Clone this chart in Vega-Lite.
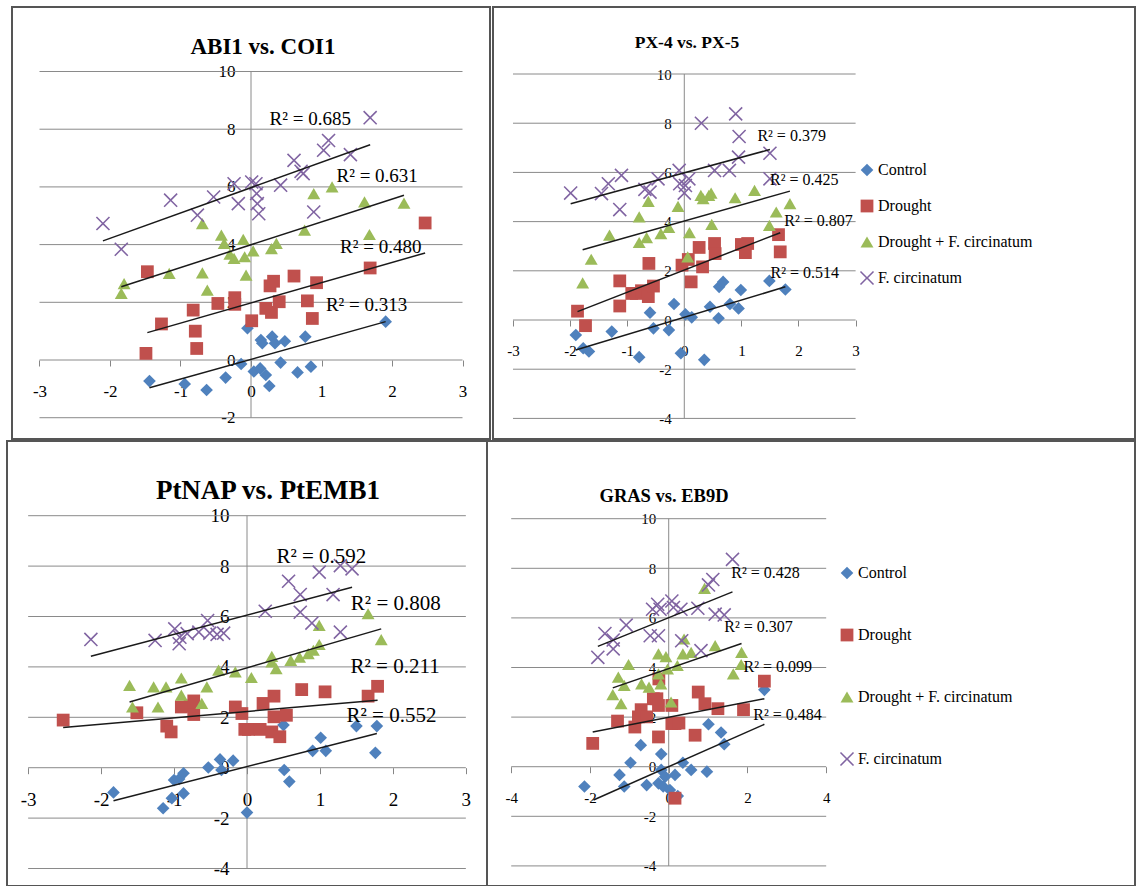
{
"$schema": "https://vega.github.io/schema/vega-lite/v6.json",
"padding": {"left": 6, "top": 6, "right": 0, "bottom": 0},
"background": "white",
"config": {"view": {"stroke": null}, "font": "Liberation Serif"},
"datasets": {
"lines": [
{"p":1,"x":-3,"x2":3,"y":-2,"y2":-2},{"p":1,"x":-3,"x2":3,"y":0,"y2":0},{"p":1,"x":-3,"x2":3,"y":2,"y2":2},{"p":1,"x":-3,"x2":3,"y":4,"y2":4},{"p":1,"x":-3,"x2":3,"y":6,"y2":6},{"p":1,"x":-3,"x2":3,"y":8,"y2":8},{"p":1,"x":-3,"x2":3,"y":10,"y2":10},{"p":1,"x":0,"x2":0,"y":-2,"y2":10},
{"p":2,"x":-3,"x2":3,"y":-4,"y2":-4},{"p":2,"x":-3,"x2":3,"y":-2,"y2":-2},{"p":2,"x":-3,"x2":3,"y":0,"y2":0},{"p":2,"x":-3,"x2":3,"y":2,"y2":2},{"p":2,"x":-3,"x2":3,"y":4,"y2":4},{"p":2,"x":-3,"x2":3,"y":6,"y2":6},{"p":2,"x":-3,"x2":3,"y":8,"y2":8},{"p":2,"x":-3,"x2":3,"y":10,"y2":10},{"p":2,"x":0,"x2":0,"y":-4,"y2":10},
{"p":3,"x":-3,"x2":3,"y":-4,"y2":-4},{"p":3,"x":-3,"x2":3,"y":-2,"y2":-2},{"p":3,"x":-3,"x2":3,"y":0,"y2":0},{"p":3,"x":-3,"x2":3,"y":2,"y2":2},{"p":3,"x":-3,"x2":3,"y":4,"y2":4},{"p":3,"x":-3,"x2":3,"y":6,"y2":6},{"p":3,"x":-3,"x2":3,"y":8,"y2":8},{"p":3,"x":-3,"x2":3,"y":10,"y2":10},{"p":3,"x":0,"x2":0,"y":-4,"y2":10},
{"p":4,"x":-4,"x2":4,"y":-4,"y2":-4},{"p":4,"x":-4,"x2":4,"y":-2,"y2":-2},{"p":4,"x":-4,"x2":4,"y":0,"y2":0},{"p":4,"x":-4,"x2":4,"y":2,"y2":2},{"p":4,"x":-4,"x2":4,"y":4,"y2":4},{"p":4,"x":-4,"x2":4,"y":6,"y2":6},{"p":4,"x":-4,"x2":4,"y":8,"y2":8},{"p":4,"x":-4,"x2":4,"y":10,"y2":10},{"p":4,"x":0,"x2":0,"y":-4,"y2":10}
],
"trend": [
{"p":1,"s":"C","x":-1.44,"y":-0.96,"x2":1.91,"y2":1.33},{"p":1,"s":"D","x":-1.47,"y":0.95,"x2":2.47,"y2":3.71},{"p":1,"s":"DF","x":-1.84,"y":2.54,"x2":2.17,"y2":5.71},{"p":1,"s":"F","x":-2.10,"y":4.13,"x2":1.69,"y2":7.46},
{"p":2,"s":"C","x":-1.90,"y":-1.22,"x2":1.77,"y2":1.35},{"p":2,"s":"D","x":-1.87,"y":0.34,"x2":1.68,"y2":3.55},{"p":2,"s":"DF","x":-1.78,"y":2.86,"x2":1.85,"y2":5.24},{"p":2,"s":"F","x":-1.99,"y":4.73,"x2":1.50,"y2":6.93},
{"p":3,"s":"C","x":-1.83,"y":-1.31,"x2":1.78,"y2":1.36},{"p":3,"s":"D","x":-2.52,"y":1.60,"x2":1.79,"y2":2.68},{"p":3,"s":"DF","x":-1.61,"y":2.61,"x2":1.84,"y2":5.51},{"p":3,"s":"F","x":-2.14,"y":4.42,"x2":1.44,"y2":7.16},
{"p":4,"s":"C","x":-1.91,"y":-1.34,"x2":2.43,"y2":1.71},{"p":4,"s":"D","x":-1.93,"y":1.40,"x2":2.43,"y2":2.74},{"p":4,"s":"DF","x":-1.42,"y":3.18,"x2":1.85,"y2":4.97},{"p":4,"s":"F","x":-1.80,"y":4.85,"x2":1.62,"y2":7.05}
],
"r2": [
{"p":1,"t":"R² = 0.685","x":0.84,"y":8.36},{"p":1,"t":"R² = 0.631","x":1.79,"y":6.37},{"p":1,"t":"R² = 0.480","x":1.84,"y":3.90},{"p":1,"t":"R² = 0.313","x":1.64,"y":1.90},
{"p":2,"t":"R² = 0.379","x":1.88,"y":7.47},{"p":2,"t":"R² = 0.425","x":2.10,"y":5.68},{"p":2,"t":"R² = 0.807","x":2.35,"y":4.03},{"p":2,"t":"R² = 0.514","x":2.11,"y":1.92},
{"p":3,"t":"R² = 0.592","x":1.02,"y":8.38},{"p":3,"t":"R² = 0.808","x":2.04,"y":6.48},{"p":3,"t":"R² = 0.211","x":2.03,"y":4.00},{"p":3,"t":"R² = 0.552","x":1.98,"y":2.04},
{"p":4,"t":"R² = 0.428","x":2.46,"y":7.82},{"p":4,"t":"R² = 0.307","x":2.28,"y":5.64},{"p":4,"t":"R² = 0.099","x":2.77,"y":4.04},{"p":4,"t":"R² = 0.484","x":3.02,"y":2.10}
],
"pts": [
{"p":1,"s":"C","x":-1.44,"y":-0.73},{"p":1,"s":"C","x":-0.94,"y":-0.83},{"p":1,"s":"C","x":-0.63,"y":-1.04},{"p":1,"s":"C","x":-0.36,"y":-0.61},{"p":1,"s":"C","x":-0.14,"y":-0.14},{"p":1,"s":"C","x":-0.05,"y":1.10},{"p":1,"s":"C","x":0.04,"y":-0.40},{"p":1,"s":"C","x":0.13,"y":-0.29},{"p":1,"s":"C","x":0.21,"y":-0.52},{"p":1,"s":"C","x":0.26,"y":-0.90},{"p":1,"s":"C","x":0.14,"y":0.69},{"p":1,"s":"C","x":0.16,"y":0.58},{"p":1,"s":"C","x":0.30,"y":0.81},{"p":1,"s":"C","x":0.34,"y":0.58},{"p":1,"s":"C","x":0.48,"y":0.65},{"p":1,"s":"C","x":0.42,"y":-0.09},{"p":1,"s":"C","x":0.66,"y":-0.43},{"p":1,"s":"C","x":0.77,"y":0.81},{"p":1,"s":"C","x":0.85,"y":-0.23},{"p":1,"s":"C","x":1.91,"y":1.33},
{"p":1,"s":"D","x":-1.49,"y":0.23},{"p":1,"s":"D","x":-1.27,"y":1.25},{"p":1,"s":"D","x":-1.47,"y":3.06},{"p":1,"s":"D","x":-0.82,"y":1.73},{"p":1,"s":"D","x":-0.79,"y":1.00},{"p":1,"s":"D","x":-0.77,"y":0.40},{"p":1,"s":"D","x":-0.47,"y":1.96},{"p":1,"s":"D","x":-0.23,"y":2.16},{"p":1,"s":"D","x":-0.23,"y":1.93},{"p":1,"s":"D","x":0.01,"y":1.36},{"p":1,"s":"D","x":0.21,"y":1.79},{"p":1,"s":"D","x":0.29,"y":1.65},{"p":1,"s":"D","x":0.27,"y":2.57},{"p":1,"s":"D","x":0.32,"y":2.73},{"p":1,"s":"D","x":0.40,"y":2.02},{"p":1,"s":"D","x":0.61,"y":2.91},{"p":1,"s":"D","x":0.80,"y":2.05},{"p":1,"s":"D","x":0.87,"y":1.44},{"p":1,"s":"D","x":0.93,"y":2.68},{"p":1,"s":"D","x":1.69,"y":3.19},{"p":1,"s":"D","x":2.47,"y":4.75},
{"p":1,"s":"DF","x":-1.80,"y":2.65},{"p":1,"s":"DF","x":-1.84,"y":2.31},{"p":1,"s":"DF","x":-1.16,"y":3.00},{"p":1,"s":"DF","x":-0.69,"y":4.73},{"p":1,"s":"DF","x":-0.69,"y":3.02},{"p":1,"s":"DF","x":-0.62,"y":2.42},{"p":1,"s":"DF","x":-0.42,"y":4.33},{"p":1,"s":"DF","x":-0.38,"y":4.04},{"p":1,"s":"DF","x":-0.30,"y":3.67},{"p":1,"s":"DF","x":-0.24,"y":3.52},{"p":1,"s":"DF","x":-0.11,"y":4.18},{"p":1,"s":"DF","x":-0.09,"y":3.58},{"p":1,"s":"DF","x":-0.07,"y":2.94},{"p":1,"s":"DF","x":0.03,"y":3.78},{"p":1,"s":"DF","x":0.29,"y":3.86},{"p":1,"s":"DF","x":0.36,"y":4.04},{"p":1,"s":"DF","x":0.76,"y":4.50},{"p":1,"s":"DF","x":0.89,"y":5.77},{"p":1,"s":"DF","x":1.15,"y":6.00},{"p":1,"s":"DF","x":1.61,"y":5.48},{"p":1,"s":"DF","x":1.68,"y":4.35},{"p":1,"s":"DF","x":2.17,"y":5.44},
{"p":1,"s":"F","x":-2.10,"y":4.73},{"p":1,"s":"F","x":-1.84,"y":3.84},{"p":1,"s":"F","x":-1.14,"y":5.54},{"p":1,"s":"F","x":-0.76,"y":5.02},{"p":1,"s":"F","x":-0.53,"y":5.65},{"p":1,"s":"F","x":-0.24,"y":6.11},{"p":1,"s":"F","x":-0.18,"y":5.42},{"p":1,"s":"F","x":0.01,"y":6.17},{"p":1,"s":"F","x":0.07,"y":6.11},{"p":1,"s":"F","x":0.08,"y":5.77},{"p":1,"s":"F","x":0.09,"y":5.42},{"p":1,"s":"F","x":0.11,"y":5.07},{"p":1,"s":"F","x":0.42,"y":6.06},{"p":1,"s":"F","x":0.61,"y":6.92},{"p":1,"s":"F","x":0.71,"y":6.54},{"p":1,"s":"F","x":0.74,"y":6.46},{"p":1,"s":"F","x":0.89,"y":5.13},{"p":1,"s":"F","x":1.03,"y":7.27},{"p":1,"s":"F","x":1.10,"y":7.61},{"p":1,"s":"F","x":1.41,"y":7.12},{"p":1,"s":"F","x":1.69,"y":8.40},
{"p":2,"s":"C","x":-1.90,"y":-0.61},{"p":2,"s":"C","x":-1.77,"y":-1.15},{"p":2,"s":"C","x":-1.67,"y":-1.28},{"p":2,"s":"C","x":-1.27,"y":-0.47},{"p":2,"s":"C","x":-0.79,"y":-1.51},{"p":2,"s":"C","x":-0.60,"y":0.30},{"p":2,"s":"C","x":-0.54,"y":-0.34},{"p":2,"s":"C","x":-0.27,"y":-0.41},{"p":2,"s":"C","x":-0.18,"y":0.65},{"p":2,"s":"C","x":-0.06,"y":-1.35},{"p":2,"s":"C","x":0.02,"y":0.23},{"p":2,"s":"C","x":0.13,"y":0.11},{"p":2,"s":"C","x":0.35,"y":-1.62},{"p":2,"s":"C","x":0.45,"y":0.54},{"p":2,"s":"C","x":0.60,"y":0.07},{"p":2,"s":"C","x":0.61,"y":1.35},{"p":2,"s":"C","x":0.68,"y":1.55},{"p":2,"s":"C","x":0.80,"y":0.65},{"p":2,"s":"C","x":0.95,"y":0.47},{"p":2,"s":"C","x":0.99,"y":1.22},{"p":2,"s":"C","x":1.49,"y":1.59},{"p":2,"s":"C","x":1.77,"y":1.24},
{"p":2,"s":"D","x":-1.87,"y":0.36},{"p":2,"s":"D","x":-1.73,"y":-0.23},{"p":2,"s":"D","x":-1.13,"y":1.59},{"p":2,"s":"D","x":-1.13,"y":0.57},{"p":2,"s":"D","x":-0.92,"y":1.08},{"p":2,"s":"D","x":-0.84,"y":1.08},{"p":2,"s":"D","x":-0.75,"y":1.19},{"p":2,"s":"D","x":-0.63,"y":0.95},{"p":2,"s":"D","x":-0.62,"y":2.30},{"p":2,"s":"D","x":-0.54,"y":1.38},{"p":2,"s":"D","x":-0.04,"y":2.23},{"p":2,"s":"D","x":0.07,"y":2.46},{"p":2,"s":"D","x":0.12,"y":1.55},{"p":2,"s":"D","x":0.26,"y":2.95},{"p":2,"s":"D","x":0.32,"y":2.16},{"p":2,"s":"D","x":0.53,"y":3.11},{"p":2,"s":"D","x":0.54,"y":2.70},{"p":2,"s":"D","x":1.00,"y":3.07},{"p":2,"s":"D","x":1.07,"y":2.74},{"p":2,"s":"D","x":1.11,"y":3.11},{"p":2,"s":"D","x":1.65,"y":3.47},{"p":2,"s":"D","x":1.68,"y":2.77},
{"p":2,"s":"DF","x":-1.78,"y":1.51},{"p":2,"s":"DF","x":-1.63,"y":2.47},{"p":2,"s":"DF","x":-1.31,"y":3.45},{"p":2,"s":"DF","x":-0.79,"y":4.19},{"p":2,"s":"DF","x":-0.79,"y":3.15},{"p":2,"s":"DF","x":-0.66,"y":3.35},{"p":2,"s":"DF","x":-0.63,"y":4.82},{"p":2,"s":"DF","x":-0.41,"y":3.51},{"p":2,"s":"DF","x":-0.27,"y":3.76},{"p":2,"s":"DF","x":-0.11,"y":4.62},{"p":2,"s":"DF","x":0.06,"y":2.57},{"p":2,"s":"DF","x":0.09,"y":3.55},{"p":2,"s":"DF","x":0.29,"y":5.07},{"p":2,"s":"DF","x":0.33,"y":4.93},{"p":2,"s":"DF","x":0.43,"y":5.07},{"p":2,"s":"DF","x":0.47,"y":5.16},{"p":2,"s":"DF","x":0.48,"y":3.89},{"p":2,"s":"DF","x":0.89,"y":4.97},{"p":2,"s":"DF","x":1.23,"y":5.27},{"p":2,"s":"DF","x":1.49,"y":3.85},{"p":2,"s":"DF","x":1.61,"y":4.39},{"p":2,"s":"DF","x":1.85,"y":4.73},
{"p":2,"s":"F","x":-1.99,"y":5.16},{"p":2,"s":"F","x":-1.45,"y":5.14},{"p":2,"s":"F","x":-1.33,"y":5.54},{"p":2,"s":"F","x":-1.13,"y":4.49},{"p":2,"s":"F","x":-1.10,"y":5.88},{"p":2,"s":"F","x":-0.69,"y":5.31},{"p":2,"s":"F","x":-0.60,"y":5.20},{"p":2,"s":"F","x":-0.46,"y":5.74},{"p":2,"s":"F","x":-0.09,"y":6.08},{"p":2,"s":"F","x":-0.08,"y":5.54},{"p":2,"s":"F","x":0.00,"y":5.16},{"p":2,"s":"F","x":0.02,"y":5.47},{"p":2,"s":"F","x":0.08,"y":5.74},{"p":2,"s":"F","x":0.30,"y":8.00},{"p":2,"s":"F","x":0.53,"y":6.08},{"p":2,"s":"F","x":0.79,"y":6.08},{"p":2,"s":"F","x":0.90,"y":8.38},{"p":2,"s":"F","x":0.95,"y":6.62},{"p":2,"s":"F","x":0.96,"y":7.46},{"p":2,"s":"F","x":1.50,"y":6.78},{"p":2,"s":"F","x":1.50,"y":5.74},
{"p":3,"s":"C","x":-1.83,"y":-0.98},{"p":3,"s":"C","x":-1.15,"y":-1.61},{"p":3,"s":"C","x":-1.03,"y":-1.21},{"p":3,"s":"C","x":-1.00,"y":-0.49},{"p":3,"s":"C","x":-0.93,"y":-0.45},{"p":3,"s":"C","x":-0.87,"y":-0.22},{"p":3,"s":"C","x":-0.87,"y":-1.02},{"p":3,"s":"C","x":-0.53,"y":0.01},{"p":3,"s":"C","x":-0.37,"y":0.33},{"p":3,"s":"C","x":-0.35,"y":-0.09},{"p":3,"s":"C","x":-0.19,"y":0.28},{"p":3,"s":"C","x":0.00,"y":-1.78},{"p":3,"s":"C","x":0.51,"y":-0.09},{"p":3,"s":"C","x":0.58,"y":-0.55},{"p":3,"s":"C","x":0.50,"y":1.69},{"p":3,"s":"C","x":0.90,"y":0.67},{"p":3,"s":"C","x":1.01,"y":1.19},{"p":3,"s":"C","x":1.08,"y":0.67},{"p":3,"s":"C","x":1.50,"y":1.65},{"p":3,"s":"C","x":1.76,"y":0.59},{"p":3,"s":"C","x":1.78,"y":1.65},
{"p":3,"s":"D","x":-2.52,"y":1.89},{"p":3,"s":"D","x":-1.51,"y":2.18},{"p":3,"s":"D","x":-1.10,"y":1.65},{"p":3,"s":"D","x":-1.04,"y":1.42},{"p":3,"s":"D","x":-0.90,"y":2.41},{"p":3,"s":"D","x":-0.78,"y":2.45},{"p":3,"s":"D","x":-0.73,"y":2.65},{"p":3,"s":"D","x":-0.73,"y":2.11},{"p":3,"s":"D","x":-0.16,"y":2.41},{"p":3,"s":"D","x":-0.07,"y":2.15},{"p":3,"s":"D","x":-0.03,"y":1.52},{"p":3,"s":"D","x":0.02,"y":1.52},{"p":3,"s":"D","x":0.18,"y":1.52},{"p":3,"s":"D","x":0.22,"y":2.55},{"p":3,"s":"D","x":0.34,"y":1.42},{"p":3,"s":"D","x":0.37,"y":2.84},{"p":3,"s":"D","x":0.37,"y":2.02},{"p":3,"s":"D","x":0.45,"y":1.23},{"p":3,"s":"D","x":0.54,"y":2.08},{"p":3,"s":"D","x":0.75,"y":3.10},{"p":3,"s":"D","x":1.07,"y":3.01},{"p":3,"s":"D","x":1.66,"y":2.84},{"p":3,"s":"D","x":1.79,"y":3.23},
{"p":3,"s":"DF","x":-1.61,"y":3.27},{"p":3,"s":"DF","x":-1.57,"y":2.41},{"p":3,"s":"DF","x":-1.28,"y":3.21},{"p":3,"s":"DF","x":-1.22,"y":2.41},{"p":3,"s":"DF","x":-1.11,"y":3.21},{"p":3,"s":"DF","x":-0.90,"y":3.56},{"p":3,"s":"DF","x":-0.90,"y":2.88},{"p":3,"s":"DF","x":-0.62,"y":2.55},{"p":3,"s":"DF","x":-0.55,"y":3.21},{"p":3,"s":"DF","x":-0.39,"y":3.87},{"p":3,"s":"DF","x":-0.16,"y":3.80},{"p":3,"s":"DF","x":0.06,"y":3.58},{"p":3,"s":"DF","x":0.34,"y":4.42},{"p":3,"s":"DF","x":0.34,"y":4.20},{"p":3,"s":"DF","x":0.40,"y":3.93},{"p":3,"s":"DF","x":0.60,"y":4.26},{"p":3,"s":"DF","x":0.72,"y":4.39},{"p":3,"s":"DF","x":0.84,"y":4.53},{"p":3,"s":"DF","x":0.91,"y":4.66},{"p":3,"s":"DF","x":0.99,"y":4.89},{"p":3,"s":"DF","x":0.99,"y":5.65},{"p":3,"s":"DF","x":1.66,"y":6.11},{"p":3,"s":"DF","x":1.84,"y":5.08},
{"p":3,"s":"F","x":-2.14,"y":5.09},{"p":3,"s":"F","x":-1.26,"y":5.05},{"p":3,"s":"F","x":-0.99,"y":5.51},{"p":3,"s":"F","x":-0.93,"y":4.92},{"p":3,"s":"F","x":-0.92,"y":5.18},{"p":3,"s":"F","x":-0.82,"y":5.32},{"p":3,"s":"F","x":-0.66,"y":5.38},{"p":3,"s":"F","x":-0.54,"y":5.84},{"p":3,"s":"F","x":-0.51,"y":5.34},{"p":3,"s":"F","x":-0.41,"y":5.29},{"p":3,"s":"F","x":-0.32,"y":5.34},{"p":3,"s":"F","x":0.25,"y":6.21},{"p":3,"s":"F","x":0.57,"y":7.40},{"p":3,"s":"F","x":0.73,"y":6.87},{"p":3,"s":"F","x":0.73,"y":6.17},{"p":3,"s":"F","x":0.89,"y":5.74},{"p":3,"s":"F","x":0.99,"y":7.76},{"p":3,"s":"F","x":1.18,"y":6.87},{"p":3,"s":"F","x":1.28,"y":5.38},{"p":3,"s":"F","x":1.28,"y":8.02},{"p":3,"s":"F","x":1.44,"y":7.89},
{"p":4,"s":"C","x":-2.14,"y":-0.80},{"p":4,"s":"C","x":-1.25,"y":-0.33},{"p":4,"s":"C","x":-1.13,"y":-0.80},{"p":4,"s":"C","x":-0.97,"y":0.16},{"p":4,"s":"C","x":-0.71,"y":0.87},{"p":4,"s":"C","x":-0.56,"y":-0.74},{"p":4,"s":"C","x":-0.26,"y":-0.67},{"p":4,"s":"C","x":-0.19,"y":0.51},{"p":4,"s":"C","x":-0.19,"y":-0.13},{"p":4,"s":"C","x":-0.14,"y":-0.80},{"p":4,"s":"C","x":-0.09,"y":-0.40},{"p":4,"s":"C","x":0.03,"y":-0.94},{"p":4,"s":"C","x":0.16,"y":-0.33},{"p":4,"s":"C","x":0.23,"y":-1.18},{"p":4,"s":"C","x":0.36,"y":0.16},{"p":4,"s":"C","x":0.57,"y":-0.13},{"p":4,"s":"C","x":0.97,"y":-0.20},{"p":4,"s":"C","x":1.01,"y":1.71},{"p":4,"s":"C","x":1.33,"y":1.38},{"p":4,"s":"C","x":1.41,"y":0.91},{"p":4,"s":"C","x":2.43,"y":3.10},
{"p":4,"s":"D","x":-1.93,"y":0.94},{"p":4,"s":"D","x":-1.30,"y":1.84},{"p":4,"s":"D","x":-0.86,"y":1.60},{"p":4,"s":"D","x":-0.77,"y":2.01},{"p":4,"s":"D","x":-0.70,"y":2.30},{"p":4,"s":"D","x":-0.56,"y":2.01},{"p":4,"s":"D","x":-0.39,"y":2.74},{"p":4,"s":"D","x":-0.30,"y":2.74},{"p":4,"s":"D","x":-0.26,"y":1.20},{"p":4,"s":"D","x":-0.26,"y":2.47},{"p":4,"s":"D","x":-0.25,"y":3.54},{"p":4,"s":"D","x":0.08,"y":2.47},{"p":4,"s":"D","x":0.08,"y":1.74},{"p":4,"s":"D","x":0.16,"y":1.74},{"p":4,"s":"D","x":0.26,"y":1.76},{"p":4,"s":"D","x":0.67,"y":1.27},{"p":4,"s":"D","x":0.75,"y":3.01},{"p":4,"s":"D","x":0.92,"y":2.54},{"p":4,"s":"D","x":1.25,"y":2.34},{"p":4,"s":"D","x":1.90,"y":2.30},{"p":4,"s":"D","x":2.43,"y":3.45},{"p":4,"s":"D","x":0.16,"y":-1.27},
{"p":4,"s":"DF","x":-1.42,"y":2.91},{"p":4,"s":"DF","x":-1.28,"y":3.61},{"p":4,"s":"DF","x":-1.21,"y":2.54},{"p":4,"s":"DF","x":-1.13,"y":3.28},{"p":4,"s":"DF","x":-1.02,"y":4.12},{"p":4,"s":"DF","x":-0.69,"y":3.34},{"p":4,"s":"DF","x":-0.50,"y":3.21},{"p":4,"s":"DF","x":-0.26,"y":4.55},{"p":4,"s":"DF","x":-0.26,"y":3.74},{"p":4,"s":"DF","x":-0.20,"y":3.34},{"p":4,"s":"DF","x":-0.07,"y":4.44},{"p":4,"s":"DF","x":-0.03,"y":3.94},{"p":4,"s":"DF","x":0.06,"y":2.61},{"p":4,"s":"DF","x":0.22,"y":4.08},{"p":4,"s":"DF","x":0.36,"y":4.55},{"p":4,"s":"DF","x":0.39,"y":5.15},{"p":4,"s":"DF","x":0.57,"y":4.61},{"p":4,"s":"DF","x":0.91,"y":7.19},{"p":4,"s":"DF","x":1.18,"y":4.88},{"p":4,"s":"DF","x":1.64,"y":3.74},{"p":4,"s":"DF","x":1.84,"y":4.12},{"p":4,"s":"DF","x":1.85,"y":4.61},
{"p":4,"s":"F","x":-1.80,"y":4.41},{"p":4,"s":"F","x":-1.62,"y":5.37},{"p":4,"s":"F","x":-1.41,"y":5.11},{"p":4,"s":"F","x":-1.41,"y":4.75},{"p":4,"s":"F","x":-1.08,"y":5.71},{"p":4,"s":"F","x":-0.47,"y":5.28},{"p":4,"s":"F","x":-0.41,"y":6.35},{"p":4,"s":"F","x":-0.28,"y":6.55},{"p":4,"s":"F","x":-0.26,"y":5.28},{"p":4,"s":"F","x":-0.22,"y":6.35},{"p":4,"s":"F","x":0.08,"y":6.68},{"p":4,"s":"F","x":0.12,"y":6.42},{"p":4,"s":"F","x":0.31,"y":6.35},{"p":4,"s":"F","x":0.33,"y":5.08},{"p":4,"s":"F","x":0.74,"y":6.39},{"p":4,"s":"F","x":0.82,"y":4.68},{"p":4,"s":"F","x":1.01,"y":7.33},{"p":4,"s":"F","x":1.12,"y":7.55},{"p":4,"s":"F","x":1.18,"y":6.15},{"p":4,"s":"F","x":1.41,"y":6.12},{"p":4,"s":"F","x":1.62,"y":8.36}
]
},
"spacing": 0,
"resolve": {"scale": {"x": "independent", "y": "independent", "color": "independent", "shape": "independent", "size": "independent"}},
"vconcat": [
{"spacing": 3, "bounds": "flush",
 "resolve": {"scale": {"x": "independent", "y": "independent", "color": "independent", "shape": "independent", "size": "independent"}},
 "hconcat": [
  {"width": 2, "height": 432, "view": {"stroke": null}, "data": {"values": []}, "mark": "point"},
  {"width": 478, "height": 432, "view": {"stroke": "#555555", "strokeWidth": 2},
   "title": {"text": "ABI1 vs. COI1", "font": "Liberation Serif", "fontSize": 23, "fontWeight": "bold", "color": "#000000", "anchor": "middle", "orient": "top", "baseline": "alphabetic", "offset": -70, "dx": 12},
   "encoding": {
    "x": {"field": "x", "type": "quantitative", "scale": {"domain": [-3.39, 3.39], "nice": false, "zero": false}, "axis": {"title": null, "values": [-3,-2,-1,0,1,2,3], "labelExpr": "'' + datum.value", "offset": -79, "domain": false, "grid": false, "tickColor": "#868686", "tickSize": 6, "labelFont": "Liberation Serif", "labelFontSize": 17, "labelColor": "#000000", "labelPadding": 17, "labelFlush": false, "labelOverlap": false}},
    "y": {"field": "y", "type": "quantitative", "scale": {"domain": [-2.738, 12.236], "nice": false, "zero": false}, "axis": {"title": null, "values": [-2,0,2,4,6,8,10], "labelExpr": "'' + datum.value", "offset": -239, "domain": false, "grid": false, "ticks": false, "labelFont": "Liberation Serif", "labelFontSize": 17, "labelColor": "#000000", "labelPadding": 16, "labelFlush": false, "labelOverlap": false}}
   },
   "layer": [
    {"data": {"name": "lines"}, "transform": [{"filter": "datum.p == 1"}], "mark": {"type": "rule", "color": "#8a8a8a", "strokeWidth": 1}, "encoding": {"x2": {"field": "x2"}, "y2": {"field": "y2"}}},
    {"data": {"name": "pts"}, "transform": [{"filter": "datum.p == 1"}], "mark": {"type": "point", "filled": true, "opacity": 1, "strokeWidth": 0},
     "encoding": {
      "color": {"field": "s", "type": "nominal", "scale": {"domain": ["C","D","DF","F"], "range": ["#4F81BD","#C0504D","#9BBB59","#8064A2"]}, "legend": null},
      "shape": {"field": "s", "type": "nominal", "scale": {"domain": ["C","D","DF","F"], "range": ["diamond","square","triangle-up","M0,-0.17L0.915,-1.085L1.085,-0.915L0.17,0L1.085,0.915L0.915,1.085L0,0.17L-0.915,1.085L-1.085,0.915L-0.17,0L-1.085,-0.915L-0.915,-1.085Z"]}, "legend": null},
      "size": {"field": "s", "type": "nominal", "scale": {"domain": ["C","D","DF","F"], "range": [160,170,165,130]}, "legend": null}}},
    {"data": {"name": "trend"}, "transform": [{"filter": "datum.p == 1"}], "mark": {"type": "rule", "color": "#1a1a1a", "strokeWidth": 1.5}, "encoding": {"x2": {"field": "x2"}, "y2": {"field": "y2"}}},
    {"data": {"name": "r2"}, "transform": [{"filter": "datum.p == 1"}], "mark": {"type": "text", "font": "Liberation Serif", "fontSize": 19, "color": "#000000"}, "encoding": {"text": {"field": "t"}}}
   ]
  },
  {"width": 642, "height": 432, "view": {"stroke": "#555555", "strokeWidth": 2},
   "title": {"text": "PX-4 vs. PX-5", "font": "Liberation Serif", "fontSize": 17.5, "fontWeight": "bold", "color": "#000000", "anchor": "middle", "orient": "top", "baseline": "alphabetic", "offset": -58, "dx": -127},
   "encoding": {
    "x": {"field": "x", "type": "quantitative", "scale": {"domain": [-3.350, 7.893], "nice": false, "zero": false}, "axis": {"title": null, "values": [-3,-2,-1,0,1,2,3], "labelExpr": "'' + datum.value", "offset": -119, "domain": false, "grid": false, "tickColor": "#868686", "tickSize": 6, "labelFont": "Liberation Serif", "labelFontSize": 15, "labelColor": "#000000", "labelPadding": 17, "labelFlush": false, "labelOverlap": false}},
    "y": {"field": "y", "type": "quantitative", "scale": {"domain": [-4.837, 12.724], "nice": false, "zero": false}, "axis": {"title": null, "values": [-4,-2,0,2,4,6,8,10], "labelExpr": "'' + datum.value", "offset": -191.3, "domain": false, "grid": false, "ticks": false, "labelFont": "Liberation Serif", "labelFontSize": 15, "labelColor": "#000000", "labelPadding": 13, "labelFlush": false, "labelOverlap": false}}
   },
   "layer": [
    {"data": {"name": "lines"}, "transform": [{"filter": "datum.p == 2"}], "mark": {"type": "rule", "color": "#8a8a8a", "strokeWidth": 1}, "encoding": {"x2": {"field": "x2"}, "y2": {"field": "y2"}}},
    {"data": {"name": "pts"}, "transform": [{"filter": "datum.p == 2"}], "mark": {"type": "point", "filled": true, "opacity": 1, "strokeWidth": 0},
     "encoding": {
      "color": {"field": "s", "type": "nominal", "scale": {"domain": ["C","D","DF","F"], "range": ["#4F81BD","#C0504D","#9BBB59","#8064A2"]},
        "legend": {"orient": "none", "legendX": 366, "legendY": 155, "title": null, "padding": 0, "labelFont": "Liberation Serif", "labelFontSize": 16, "labelColor": "#000000", "labelOffset": 3, "symbolSize": 90, "symbolStrokeWidth": 0, "rowPadding": 20, "labelExpr": "datum.label == 'C' ? 'Control' : datum.label == 'D' ? 'Drought' : datum.label == 'DF' ? 'Drought + F. circinatum' : 'F. circinatum'"}},
      "shape": {"field": "s", "type": "nominal", "scale": {"domain": ["C","D","DF","F"], "range": ["diamond","square","triangle-up","M0,-0.17L0.915,-1.085L1.085,-0.915L0.17,0L1.085,0.915L0.915,1.085L0,0.17L-0.915,1.085L-1.085,0.915L-0.17,0L-1.085,-0.915L-0.915,-1.085Z"]},
        "legend": {"orient": "none", "legendX": 366, "legendY": 155, "title": null, "padding": 0, "labelFont": "Liberation Serif", "labelFontSize": 16, "labelColor": "#000000", "labelOffset": 3, "symbolSize": 90, "symbolStrokeWidth": 0, "rowPadding": 20, "labelExpr": "datum.label == 'C' ? 'Control' : datum.label == 'D' ? 'Drought' : datum.label == 'DF' ? 'Drought + F. circinatum' : 'F. circinatum'"}},
      "size": {"field": "s", "type": "nominal", "scale": {"domain": ["C","D","DF","F"], "range": [160,170,165,130]}, "legend": null}}},
    {"data": {"name": "trend"}, "transform": [{"filter": "datum.p == 2"}], "mark": {"type": "rule", "color": "#1a1a1a", "strokeWidth": 1.5}, "encoding": {"x2": {"field": "x2"}, "y2": {"field": "y2"}}},
    {"data": {"name": "r2"}, "transform": [{"filter": "datum.p == 2"}], "mark": {"type": "text", "font": "Liberation Serif", "fontSize": 16, "color": "#000000"}, "encoding": {"text": {"field": "t"}}}
   ]
  }
 ]
},
{"spacing": 0, "bounds": "flush",
 "resolve": {"scale": {"x": "independent", "y": "independent", "color": "independent", "shape": "independent", "size": "independent"}},
 "hconcat": [
  {"width": 480, "height": 445, "view": {"stroke": "#555555", "strokeWidth": 2},
   "title": {"text": "PtNAP vs. PtEMB1", "font": "Liberation Serif", "fontSize": 27, "fontWeight": "bold", "color": "#000000", "anchor": "middle", "orient": "top", "baseline": "alphabetic", "offset": -85, "dx": 21},
   "encoding": {
    "x": {"field": "x", "type": "quantitative", "scale": {"domain": [-3.29, 3.29], "nice": false, "zero": false}, "axis": {"title": null, "values": [-3,-2,-1,0,1,2,3], "labelExpr": "'' + datum.value", "offset": -118.3, "domain": false, "grid": false, "tickColor": "#868686", "tickSize": 6, "labelFont": "Liberation Serif", "labelFontSize": 19, "labelColor": "#000000", "labelPadding": 17, "labelFlush": false, "labelOverlap": false}},
    "y": {"field": "y", "type": "quantitative", "scale": {"domain": [-4.694, 12.964], "nice": false, "zero": false}, "axis": {"title": null, "values": [-4,-2,0,2,4,6,8,10], "labelExpr": "'' + datum.value", "offset": -240, "domain": false, "grid": false, "ticks": false, "labelFont": "Liberation Serif", "labelFontSize": 19, "labelColor": "#000000", "labelPadding": 18, "labelFlush": false, "labelOverlap": false}}
   },
   "layer": [
    {"data": {"name": "lines"}, "transform": [{"filter": "datum.p == 3"}], "mark": {"type": "rule", "color": "#8a8a8a", "strokeWidth": 1}, "encoding": {"x2": {"field": "x2"}, "y2": {"field": "y2"}}},
    {"data": {"name": "pts"}, "transform": [{"filter": "datum.p == 3"}], "mark": {"type": "point", "filled": true, "opacity": 1, "strokeWidth": 0},
     "encoding": {
      "color": {"field": "s", "type": "nominal", "scale": {"domain": ["C","D","DF","F"], "range": ["#4F81BD","#C0504D","#9BBB59","#8064A2"]}, "legend": null},
      "shape": {"field": "s", "type": "nominal", "scale": {"domain": ["C","D","DF","F"], "range": ["diamond","square","triangle-up","M0,-0.17L0.915,-1.085L1.085,-0.915L0.17,0L1.085,0.915L0.915,1.085L0,0.17L-0.915,1.085L-1.085,0.915L-0.17,0L-1.085,-0.915L-0.915,-1.085Z"]}, "legend": null},
      "size": {"field": "s", "type": "nominal", "scale": {"domain": ["C","D","DF","F"], "range": [160,170,165,130]}, "legend": null}}},
    {"data": {"name": "trend"}, "transform": [{"filter": "datum.p == 3"}], "mark": {"type": "rule", "color": "#1a1a1a", "strokeWidth": 1.5}, "encoding": {"x2": {"field": "x2"}, "y2": {"field": "y2"}}},
    {"data": {"name": "r2"}, "transform": [{"filter": "datum.p == 3"}], "mark": {"type": "text", "font": "Liberation Serif", "fontSize": 21, "color": "#000000"}, "encoding": {"text": {"field": "t"}}}
   ]
  },
  {"width": 648, "height": 445, "view": {"stroke": "#555555", "strokeWidth": 2},
   "title": {"text": "GRAS vs. EB9D", "font": "Liberation Serif", "fontSize": 18.5, "fontWeight": "bold", "color": "#000000", "anchor": "middle", "orient": "top", "baseline": "alphabetic", "offset": -79, "dx": -147},
   "encoding": {
    "x": {"field": "x", "type": "quantitative", "scale": {"domain": [-4.615, 11.843], "nice": false, "zero": false}, "axis": {"title": null, "values": [-4,-2,0,2,4], "labelExpr": "'' + datum.value", "offset": -119.3, "domain": false, "grid": false, "tickColor": "#868686", "tickSize": 6, "labelFont": "Liberation Serif", "labelFontSize": 15, "labelColor": "#000000", "labelPadding": 18, "labelFlush": false, "labelOverlap": false}},
    "y": {"field": "y", "type": "quantitative", "scale": {"domain": [-4.81, 13.133], "nice": false, "zero": false}, "axis": {"title": null, "values": [-4,-2,0,2,4,6,8,10], "labelExpr": "'' + datum.value", "offset": -181.7, "domain": false, "grid": false, "ticks": false, "labelFont": "Liberation Serif", "labelFontSize": 15, "labelColor": "#000000", "labelPadding": 13, "labelFlush": false, "labelOverlap": false}}
   },
   "layer": [
    {"data": {"name": "lines"}, "transform": [{"filter": "datum.p == 4"}], "mark": {"type": "rule", "color": "#8a8a8a", "strokeWidth": 1}, "encoding": {"x2": {"field": "x2"}, "y2": {"field": "y2"}}},
    {"data": {"name": "pts"}, "transform": [{"filter": "datum.p == 4"}], "mark": {"type": "point", "filled": true, "opacity": 1, "strokeWidth": 0},
     "encoding": {
      "color": {"field": "s", "type": "nominal", "scale": {"domain": ["C","D","DF","F"], "range": ["#4F81BD","#C0504D","#9BBB59","#8064A2"]},
        "legend": {"orient": "none", "legendX": 352, "legendY": 124, "title": null, "padding": 0, "labelFont": "Liberation Serif", "labelFontSize": 16, "labelColor": "#000000", "labelOffset": 3, "symbolSize": 90, "symbolStrokeWidth": 0, "rowPadding": 46, "labelExpr": "datum.label == 'C' ? 'Control' : datum.label == 'D' ? 'Drought' : datum.label == 'DF' ? 'Drought + F. circinatum' : 'F. circinatum'"}},
      "shape": {"field": "s", "type": "nominal", "scale": {"domain": ["C","D","DF","F"], "range": ["diamond","square","triangle-up","M0,-0.17L0.915,-1.085L1.085,-0.915L0.17,0L1.085,0.915L0.915,1.085L0,0.17L-0.915,1.085L-1.085,0.915L-0.17,0L-1.085,-0.915L-0.915,-1.085Z"]},
        "legend": {"orient": "none", "legendX": 352, "legendY": 124, "title": null, "padding": 0, "labelFont": "Liberation Serif", "labelFontSize": 16, "labelColor": "#000000", "labelOffset": 3, "symbolSize": 90, "symbolStrokeWidth": 0, "rowPadding": 46, "labelExpr": "datum.label == 'C' ? 'Control' : datum.label == 'D' ? 'Drought' : datum.label == 'DF' ? 'Drought + F. circinatum' : 'F. circinatum'"}},
      "size": {"field": "s", "type": "nominal", "scale": {"domain": ["C","D","DF","F"], "range": [160,170,165,130]}, "legend": null}}},
    {"data": {"name": "trend"}, "transform": [{"filter": "datum.p == 4"}], "mark": {"type": "rule", "color": "#1a1a1a", "strokeWidth": 1.5}, "encoding": {"x2": {"field": "x2"}, "y2": {"field": "y2"}}},
    {"data": {"name": "r2"}, "transform": [{"filter": "datum.p == 4"}], "mark": {"type": "text", "font": "Liberation Serif", "fontSize": 16, "color": "#000000"}, "encoding": {"text": {"field": "t"}}}
   ]
  }
 ]
}
]
}
